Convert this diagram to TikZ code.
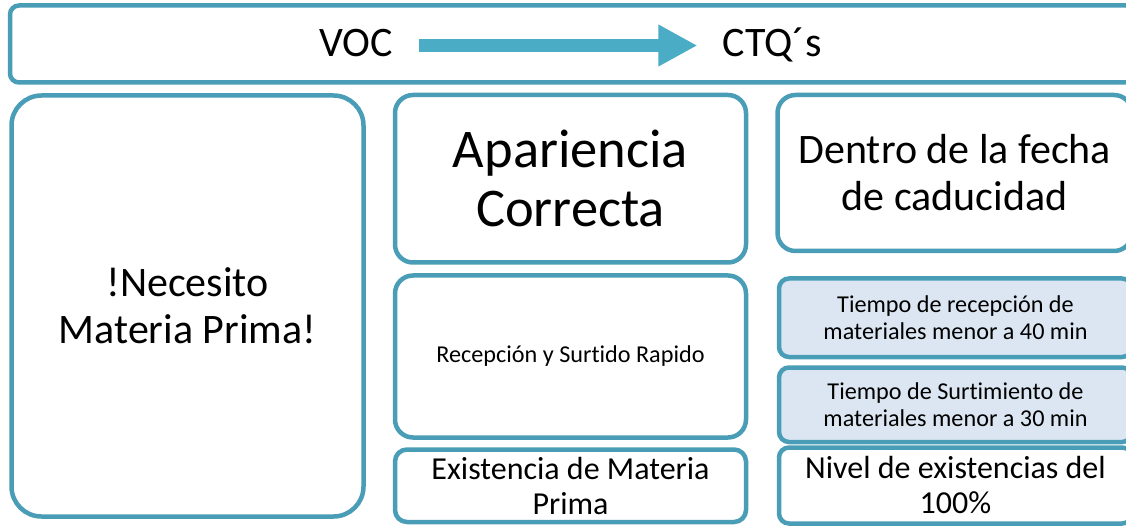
\documentclass[tikz,border=0pt]{standalone}
\usepackage{fontspec}
\setmainfont{Carlito}[Ligatures={NoCommon}]
\usetikzlibrary{arrows.meta}
\definecolor{tealline}{HTML}{4A9DB6}
\definecolor{arrowblue}{HTML}{4BACC6}
\definecolor{lightfill}{HTML}{DCE6F2}
\begin{document}
\begin{tikzpicture}[x=1pt,y=-1pt,
  box/.style={draw=tealline, line width=4.5pt, fill=white, inner sep=0pt, align=center, rounded corners=#1},
  lightbox/.style={box=#1, fill=lightfill},
  hugetxt/.style={font=\fontsize{54.5}{59}\selectfont},
  bigtxt/.style={font=\fontsize{42}{47}\selectfont},
  midtxt/.style={font=\fontsize{32}{35}\selectfont},
  smalltxt/.style={font=\fontsize{24.2}{27.5}\selectfont},
  bigarrow/.style={draw=arrowblue, line width=13pt, -{Triangle[length=39pt,width=39pt]}, shorten <=26pt, shorten >=25pt}
]
\useasboundingbox (0,0) rectangle (1126,526);
\clip (0,0) rectangle (1126,526);
\fill[white] (0,0) rectangle (1126,526);

% top bar
\node[box=9pt, minimum width=1125pt, minimum height=77pt] (bar) at (572.5,44) {};
\node[bigtxt, inner sep=0pt, anchor=base] (voc) at (356,57) {VOC};
\node[bigtxt, inner sep=0pt, anchor=base] (ctq) at (772,57) {CTQ´s};
\draw[bigarrow] ([yshift=-2pt]voc.east) -- ([yshift=-2pt]voc.east -| ctq.west);

% left column
\node[box=30pt, bigtxt, minimum width=352pt, minimum height=421pt] (need) at (187.5,306)
  {!Necesito\\Materia Prima!};

% middle column
\node[box=18pt, hugetxt, minimum width=351pt, minimum height=167.5pt] (apar) at (570.5,178.75)
  {Apariencia\\Correcta};
\node[box=18pt, smalltxt, minimum width=351pt, minimum height=162pt] (recep) at (570.5,356.5)
  {Recepción y Surtido Rapido};
\node[box=12pt, midtxt, minimum width=351pt, minimum height=72.5pt] (exist) at (570.5,485.75)
  {Existencia de Materia\\Prima};

% right column
\node[box=18pt, bigtxt, minimum width=354.5pt, minimum height=156pt] (fecha) at (954.75,173)
  {Dentro de la fecha\\de caducidad};
\node[lightbox=10pt, smalltxt, minimum width=353pt, minimum height=78.5pt] (t40) at (955.5,317.75)
  {Tiempo de recepción de\\materiales menor a 40 min};
\node[lightbox=10pt, smalltxt, minimum width=353pt, minimum height=74.5pt] (t30) at (955.5,404.75)
  {Tiempo de Surtimiento de\\materiales menor a 30 min};
\node[box=10pt, midtxt, minimum width=353pt, minimum height=76pt] (nivel) at (955.5,485.5)
  {Nivel de existencias del\\100\%};
\end{tikzpicture}
\end{document}
